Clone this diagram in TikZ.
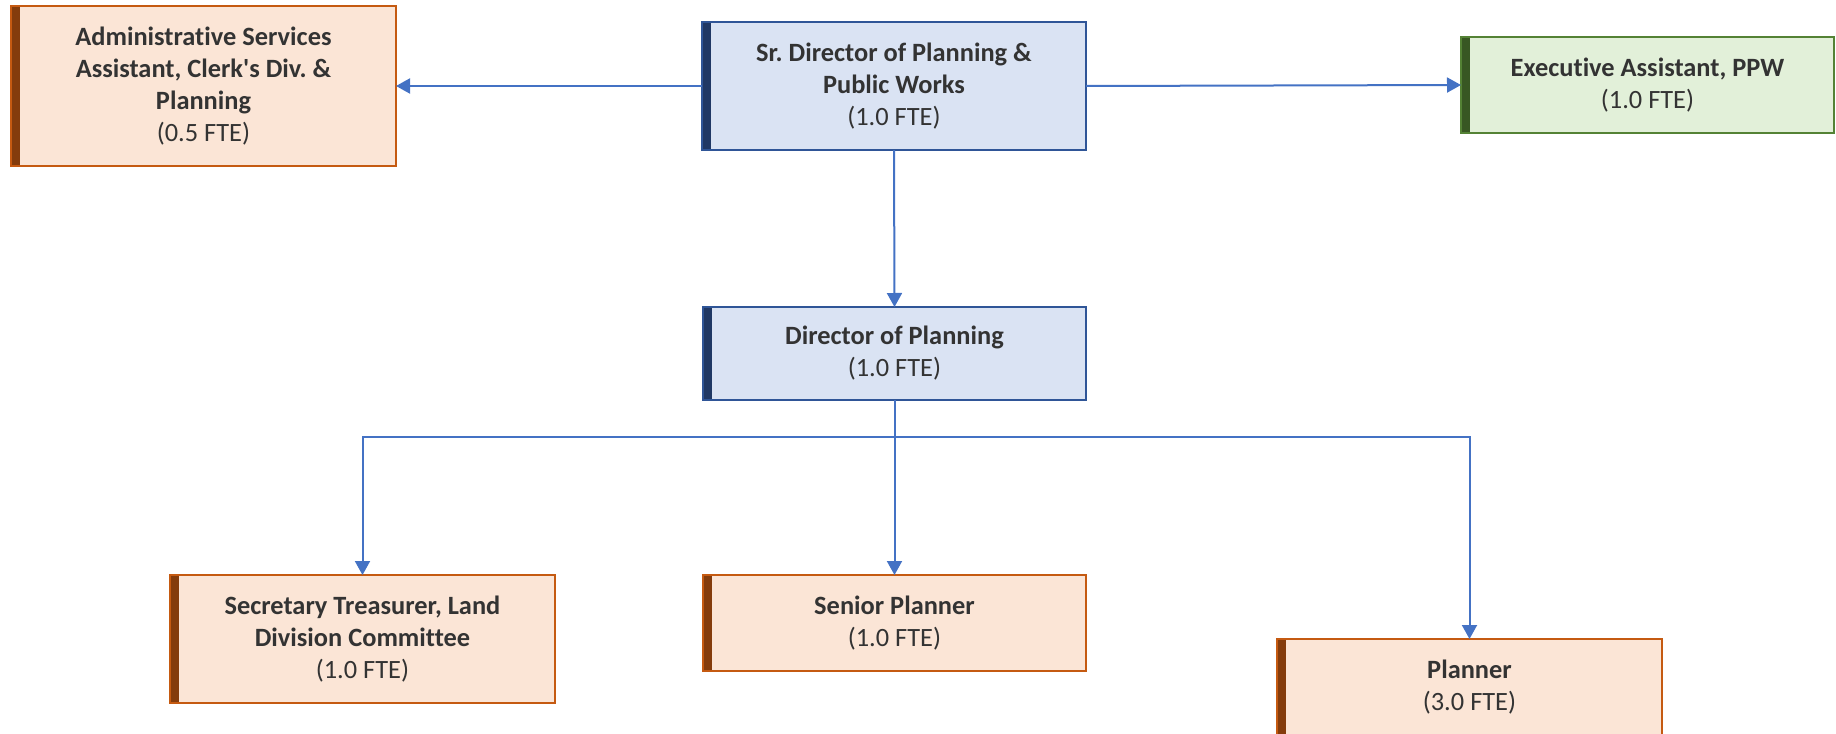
\documentclass[tikz,border=0pt]{standalone}
\usepackage{fontspec}
\setmainfont{Carlito}[Ligatures={TeX,NoCommon}]
\usetikzlibrary{arrows.meta}
\frenchspacing

\definecolor{orgfill}{HTML}{FBE5D6}
\definecolor{orgline}{HTML}{C55A11}
\definecolor{orgbar}{HTML}{843C0C}
\definecolor{bluefill}{HTML}{DAE3F3}
\definecolor{blueline}{HTML}{2F5597}
\definecolor{bluebar}{HTML}{203864}
\definecolor{grnfill}{HTML}{E2F0D9}
\definecolor{grnline}{HTML}{548235}
\definecolor{grnbar}{HTML}{385723}
\definecolor{linkcol}{HTML}{4472C4}
\definecolor{txtcol}{HTML}{333333}

\tikzset{
    post/.style={rectangle, draw=#1line, fill=#1fill, line width=1bp,
        text=txtcol, align=center, font=\fontsize{13.2bp}{16bp}\selectfont,
        inner sep=0pt, outer sep=0pt,
        path picture={\fill[#1bar] (path picture bounding box.north west)
            rectangle ([xshift=4.5bp]path picture bounding box.south west);}},
    link/.style={draw=linkcol, line width=1bp, -{Triangle[length=7bp,width=7.5bp]}}
}

\begin{document}
\begin{tikzpicture}[x=0.5bp, y=-0.5bp]
    \useasboundingbox (0,0) rectangle (1836,734);
    \node[post=org, minimum width=192.5bp, minimum height=80bp] (admin) at (203.5,86)
        {\textbf{Administrative Services}\\\textbf{Assistant, Clerk\textquotesingle s Div. \&}\\\textbf{Planning}\\(0.5 FTE)};
    \node[post=blue, minimum width=192bp, minimum height=64bp] (srdir) at (894,86)
        {\textbf{Sr. Director of Planning \&}\\\textbf{Public Works}\\(1.0 FTE)};
    \node[post=grn, minimum width=186.5bp, minimum height=48bp] (exec) at (1647.5,85)
        {\textbf{Executive Assistant, PPW}\\(1.0 FTE)};
    \node[post=blue, minimum width=191.5bp, minimum height=46.5bp] (dir) at (894.5,353.5)
        {\textbf{Director of Planning}\\(1.0 FTE)};
    \node[post=org, minimum width=192.5bp, minimum height=64bp] (sec) at (362.5,639)
        {\textbf{Secretary Treasurer, Land}\\\textbf{Division Committee}\\(1.0 FTE)};
    \node[post=org, minimum width=191.5bp, minimum height=48bp] (senior) at (894.5,623)
        {\textbf{Senior Planner}\\(1.0 FTE)};
    \node[post=org, minimum width=192.5bp, minimum height=48bp] (planner) at (1469.5,687)
        {\textbf{Planner}\\(3.0 FTE)};
    \coordinate (bus) at (894.5,437);

    \draw[link] (srdir.west) -- (admin.east);
    \draw[link] (srdir.east) -- (exec.west);
    \draw[link] (srdir.south) -- (dir.north);
    \draw[link] (dir.south) -- (bus) -| (sec.north);
    \draw[link] (bus) -- (senior.north);
    \draw[link] (bus) -| (planner.north);
\end{tikzpicture}
\end{document}
